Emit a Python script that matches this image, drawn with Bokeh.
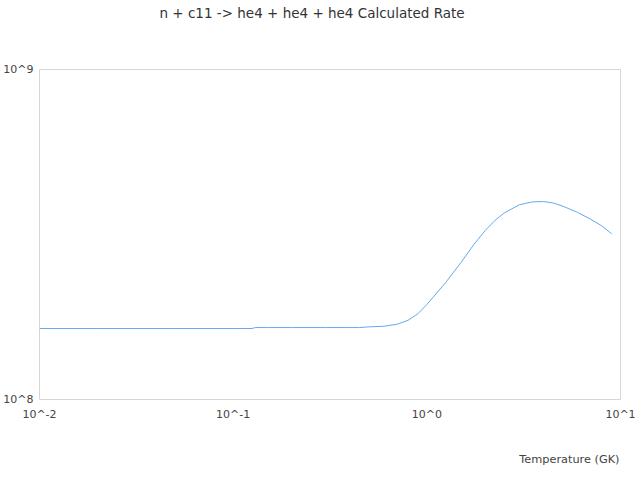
from bokeh.plotting import figure
from bokeh.models import FixedTicker, CustomJSTickFormatter, Title
from bokeh.embed import file_html
from bokeh.resources import INLINE

title_text = "n + c11 -> he4 + he4 + he4 Calculated Rate"
x_label = "Temperature (GK)"

temperature = [0.01, 0.02, 0.05, 0.1, 0.125, 0.13, 0.15, 0.2, 0.3, 0.4, 0.45, 0.5,
               0.6, 0.7, 0.8, 0.9, 1.0, 1.25, 1.5, 1.75, 2.0, 2.25, 2.5, 3.0, 3.5,
               4.0, 4.5, 5.0, 6.0, 7.0, 8.0, 9.0]
rate = [1.641e8, 1.641e8, 1.641e8, 1.641e8, 1.641e8, 1.652e8, 1.652e8, 1.652e8,
        1.652e8, 1.652e8, 1.652e8, 1.660e8, 1.667e8, 1.690e8, 1.738e8, 1.820e8,
        1.94e8, 2.26e8, 2.60e8, 2.95e8, 3.25e8, 3.49e8, 3.67e8, 3.89e8, 3.97e8,
        3.98e8, 3.94e8, 3.86e8, 3.69e8, 3.52e8, 3.36e8, 3.18e8]
x_ticks = [0.01, 0.1, 1, 10]
y_ticks = [1e8, 1e9]

p = figure(width=640, height=475, x_axis_type="log", y_axis_type="log",
           x_range=(0.01, 10), y_range=(1e8, 1e9), title=None,
           output_backend="svg", toolbar_location=None,
           min_border_left=32, min_border_right=20, min_border_top=69,
           min_border_bottom=76)

def text_title(text, size, color, **kw):
    return Title(text=text, text_font="DejaVu Sans", text_font_size=size,
                 text_font_style="normal", text_color=color, **kw)

# above: spacer nearest the frame, then the chart title
p.add_layout(text_title(" ", "11px", "#ffffff", standoff=34), "above")
p.add_layout(text_title(title_text, "13.5px", "#333333", align="left",
                        offset=120, standoff=0), "above")

p.line(temperature, rate, line_color="#62aaf2", line_width=1)

p.xgrid.visible = False
p.ygrid.visible = False
p.outline_line_color = "#d6d6d6"
p.outline_line_width = 1

fmt = CustomJSTickFormatter(code="return '10^' + Math.round(Math.log10(tick));")
for ax, ticks in ((p.xaxis[0], x_ticks), (p.yaxis[0], y_ticks)):
    ax.ticker = FixedTicker(ticks=ticks, minor_ticks=[])
    ax.formatter = fmt
    ax.axis_line_color = None
    ax.major_tick_line_color = None
    ax.minor_tick_line_color = None
    ax.major_label_text_font = "DejaVu Sans"
    ax.major_label_text_font_size = "11px"
    ax.major_label_text_color = "#444444"

p.xaxis[0].major_label_standoff = 2
p.yaxis[0].major_label_standoff = 0

# below: spacer after the axis, then the x-axis title, right aligned
p.add_layout(text_title(" ", "11px", "#ffffff", standoff=12), "below")
p.add_layout(text_title(x_label, "11.3px", "#444444", align="right",
                        offset=1, standoff=0), "below")

open("out.html", "w").write(file_html(p, INLINE))
